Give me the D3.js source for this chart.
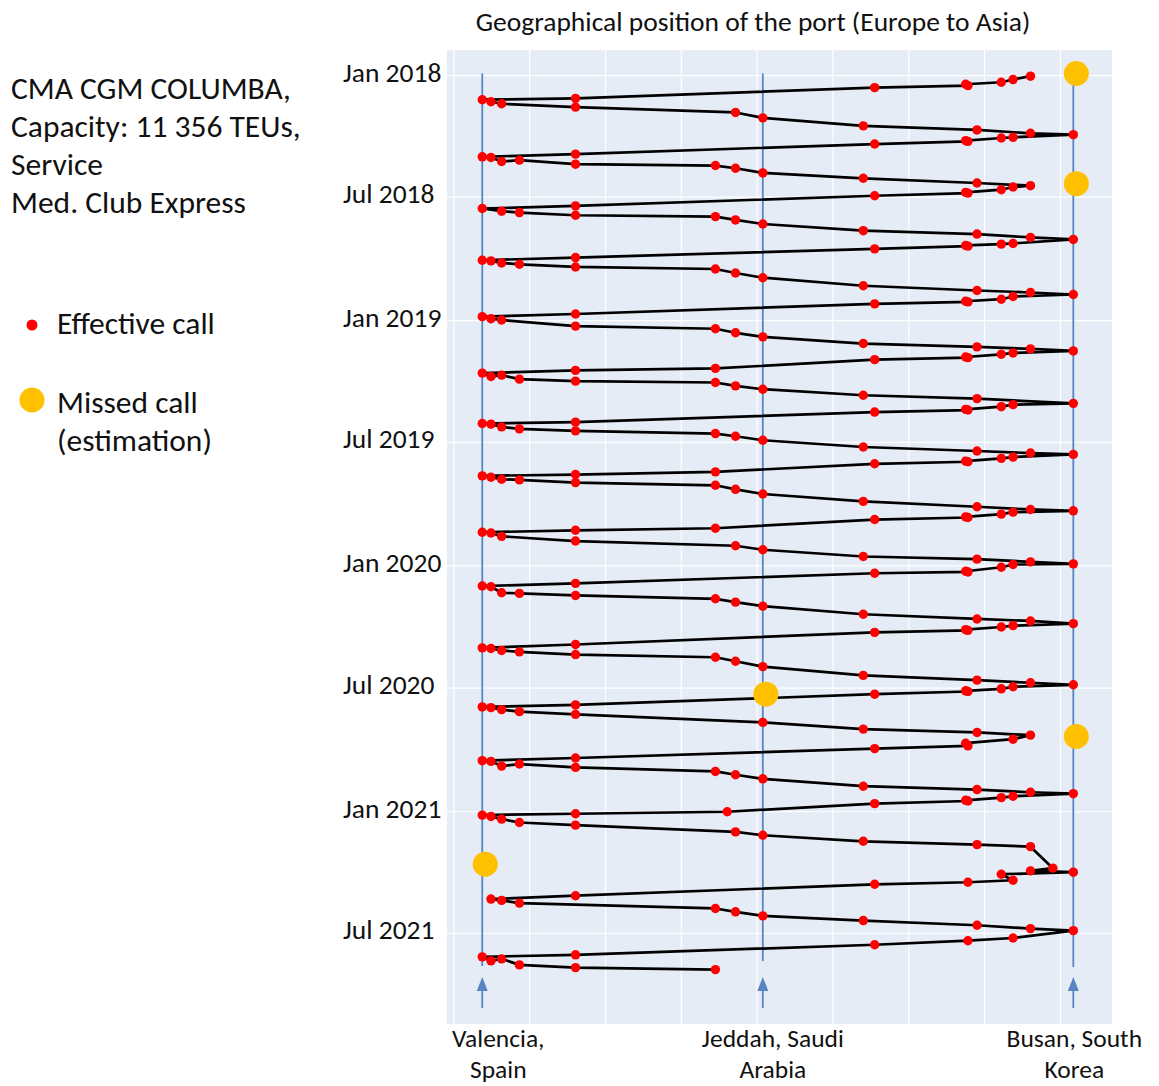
<!DOCTYPE html>
<html>
<head>
<meta charset="utf-8">
<script src="https://cdn.jsdelivr.net/npm/d3@7"></script>
<style>
  body { margin: 0; background: #fff; }
  text { font-family: Carlito, Lato, "Open Sans", sans-serif; fill: #111; }
</style>
</head>
<body>
<div id="chart"></div>
<script>

// ports along the route, x = position index (Europe -> Asia)
var portKeys      = ["VLC", "P02", "P03", "P04", "P05", "P06", "P06b", "P07", "JED", "P08", "P09", "P10a", "P10b", "P11", "P12", "P13", "P14", "P15", "PUS"];
var portPositions = [3.75,  4.9,   6.3,   8.65,  16.05, 34.5,  36.05,  37.15, 40.75, 54.0,  55.5,  67.5,   67.8,   69.0,  72.2,  73.75, 76.05, 79.0,  81.7];

// labelled ports (lines, arrows, axis labels)
var mainPorts  = ["VLC", "JED", "PUS"];
var portLabels = [["Valencia,", "Spain"], ["Jeddah, Saudi", "Arabia"], ["Busan, South", "Korea"]];

// effective calls, in route order: [port, day since 1 Jan 2018]
var calls = [
  ["P14",1],["P13",6],["P12",10],["P10a",13],["P10b",15],["P09",18],["P05",34],["VLC",36],
  ["P02",39],["P03",42],["P05",47],["P07",55],["JED",63],["P08",75],["P11",81],["P14",86],["PUS",88],
  ["P13",92],["P12",93],["P10a",97],["P10b",98],["P09",102],["P05",117],["VLC",121],
  ["P02",122],["P03",128],["P04",126],["P05",132],["P06",134],["P07",138],["JED",145],["P08",153],["P11",160],["P14",164],
  ["P13",166],["P12",170],["P10a",174],["P10b",175],["P09",179],["P05",194],["VLC",198],
  ["P03",202],["P04",204],["P05",208],["P06",210],["P07",215],["JED",221],["P08",231],["P11",236],["P14",241],["PUS",244],
  ["P13",250],["P12",251],["P10a",253],["P10b",254],["P09",258],["P05",271],["VLC",275],
  ["P02",276],["P03",279],["P04",281],["P05",285],["P06",288],["P07",294],["JED",301],["P08",313],["P11",320],["P14",323],["PUS",326],
  ["P13",329],["P12",333],["P10a",336],["P10b",337],["P09",340],["P05",355],["VLC",359],
  ["P02",362],["P03",364],["P05",373],["P06",377],["P07",383],["JED",389],["P08",399],["P11",404],["P14",407],["PUS",410],
  ["P13",413],["P12",415],["P10a",419],["P10b",420],["P09",423],["P06",436],["P05",439],["VLC",443],
  ["P02",448],["P03",446],["P04",452],["P05",455],["P06",457],["P07",462],["JED",467],["P08",476],["P11",481],["PUS",488],
  ["P13",490],["P12",493],["P10a",497],["P10b",498],["P09",501],["P05",516],["VLC",518],
  ["P02",519],["P03",523],["P04",526],["P05",529],["P06",533],["P07",537],["JED",543],["P08",553],["P11",559],["P14",562],["PUS",564],
  ["P13",568],["P12",570],["P10a",574],["P10b",575],["P09",578],["P06",590],["P05",594],["VLC",596],
  ["P02",598],["P03",601],["P04",602],["P05",606],["P06",610],["P07",616],["JED",623],["P08",634],["P11",642],["P14",646],["PUS",648],
  ["P13",650],["P12",653],["P10a",657],["P10b",658],["P09",661],["P06",674],["P05",677],["VLC",680],
  ["P02",681],["P03",686],["P05",693],["P07",700],["JED",706],["P08",716],["P11",720],["P14",724],["PUS",727],
  ["P13",728],["P12",732],["P10a",738],["P10b",739],["P09",741],["P05",756],["VLC",760],
  ["P02",761],["P03",770],["P04",771],["P05",774],["P06",779],["P07",784],["JED",790],["P08",802],["P11",809],["P14",812],["PUS",816],
  ["P13",819],["P12",821],["P10a",825],["P10b",826],["P09",829],["P05",847],["VLC",852],
  ["P02",853],["P03",856],["P04",858],["P05",862],["P06",866],["P07",872],["JED",880],["P08",893],["P11",900],["P14",904],["PUS",907],
  ["P13",910],["P12",913],["P10a",916],["P10b",917],["P09",921],["P05",937],["VLC",940],
  ["P02",941],["P03",944],["P04",947],["P05",951],["JED",963],["P08",973],["P11",978],["P14",982],
  ["P13",988],["P10a",994],["P10b",998],["P09",1002],["P05",1016],["VLC",1020],
  ["P02",1021],["P03",1028],["P04",1025],["P05",1030],["P06",1036],["P07",1041],["JED",1047],["P08",1058],["P11",1063],["P14",1067],["PUS",1069],
  ["P13",1073],["P12",1075],["P10a",1079],["P10b",1080],["P09",1084],["P06b",1096],["P05",1099],["VLC",1101],
  ["P02",1103],["P03",1107],["P04",1112],["P05",1116],["P07",1126],["JED",1131],["P08",1140],["P11",1145],["P14",1148],["P15",1180],["P14",1184],["PUS",1186],
  ["P12",1189],["P13",1198],["P10b",1201],["P09",1204],["P05",1221],
  ["P02",1226],["P03",1228],["P04",1232],["P06",1240],["P07",1245],["JED",1251],["P08",1258],["P11",1265],["P14",1270],["PUS",1273],
  ["P13",1284],["P10b",1288],["P09",1294],["P05",1309],["VLC",1312],
  ["P02",1318],["P03",1315],["P04",1324],["P05",1328],["P06",1331]
];

// missed calls (estimated)
var missedPorts = ["PUS", "PUS", "JED", "PUS", "VLC"];
var missedDays  = [-3, 161, 921, 984, 1174];

// y axis ticks
var tickDates  = ["2018-01-01", "2018-07-01", "2019-01-01", "2019-07-01", "2020-01-01", "2020-07-01", "2021-01-01", "2021-07-01"];
var tickLabels = ["Jan 2018", "Jul 2018", "Jan 2019", "Jul 2019", "Jan 2020", "Jul 2020", "Jan 2021", "Jul 2021"];

var infoLines   = ["CMA CGM COLUMBA,", "Capacity: 11 356 TEUs,", "Service", "Med. Club Express"];
var chartTitle  = "Geographical position of the port (Europe to Asia)";


var W = 1159, H = 1086;
var plot = { left: 447, right: 1112, top: 50, bottom: 1024 };
var blue = '#5785C1';
var start = Date.UTC(2018, 0, 1);
var parseDay = d3.utcParse("%Y-%m-%d");

function dayDate(d){ return d3.utcDay.offset(new Date(start), d); }
function portX(key){ return x(portPositions[portKeys.indexOf(key)]); }

var x = d3.scaleLinear().domain([-0.9, 86.8]).range([plot.left, plot.right]);
var y = d3.scaleUtc().domain([dayDate(-38), dayDate(1412)]).range([plot.top, plot.bottom]);

var svg = d3.select('#chart').append('svg')
  .attr('width', W).attr('height', H);

svg.append('rect').attr('width', W).attr('height', H).attr('fill', '#fff');

// plot background + grid
svg.append('rect')
  .attr('x', plot.left).attr('y', plot.top)
  .attr('width', plot.right - plot.left).attr('height', plot.bottom - plot.top)
  .attr('fill', '#E5ECF6');

svg.append('g').selectAll('line').data(d3.range(0, 90, 10)).enter()
  .append('line')
  .attr('x1', function(d){ return x(d); }).attr('x2', function(d){ return x(d); })
  .attr('y1', plot.top).attr('y2', plot.bottom)
  .attr('stroke', '#fff').attr('stroke-width', 1.2);

svg.append('g').selectAll('line').data(tickDates).enter()
  .append('line')
  .attr('x1', plot.left).attr('x2', plot.right)
  .attr('y1', function(d){ return y(parseDay(d)); }).attr('y2', function(d){ return y(parseDay(d)); })
  .attr('stroke', '#fff').attr('stroke-width', 1.2);

// y tick labels (left aligned, as in the original)
svg.append('g').selectAll('text').data(tickDates).enter()
  .append('text')
  .attr('x', 343)
  .attr('y', function(d){ return y(parseDay(d)) + 6; })
  .attr('font-size', 27.5)
  .text(function(d, i){ return tickLabels[i]; });

// port reference lines and arrows
var lineBottoms = [966, 961, 967];
mainPorts.forEach(function(p, i){
  var px = portX(p);
  svg.append('line')
    .attr('x1', px).attr('x2', px)
    .attr('y1', y(dayDate(-3))).attr('y2', lineBottoms[i])
    .attr('stroke', blue).attr('stroke-width', 1.8);
  svg.append('line')
    .attr('x1', px).attr('x2', px)
    .attr('y1', 1008).attr('y2', 986)
    .attr('stroke', blue).attr('stroke-width', 1.8);
  svg.append('path')
    .attr('d', 'M' + (px - 5.5) + ',991 L' + px + ',977 L' + (px + 5.5) + ',991 Z')
    .attr('fill', blue);
});

// port labels under the plot (one text per line)
var labelShift = [16, 10, 1];
mainPorts.forEach(function(p, i){
  portLabels[i].forEach(function(s, j){
    svg.append('text')
      .attr('text-anchor', 'middle')
      .attr('font-size', 25.5)
      .attr('x', portX(p) + labelShift[i])
      .attr('y', 1047 + j * 31)
      .text(s);
  });
});

// route
var route = d3.line()
  .x(function(d){ return portX(d[0]); })
  .y(function(d){ return y(dayDate(d[1])); });

svg.append('path')
  .datum(calls)
  .attr('d', route)
  .attr('fill', 'none')
  .attr('stroke', '#000')
  .attr('stroke-width', 2.7)
  .attr('stroke-linejoin', 'round');

svg.append('g').selectAll('circle').data(calls).enter()
  .append('circle')
  .attr('cx', function(d){ return portX(d[0]); })
  .attr('cy', function(d){ return y(dayDate(d[1])); })
  .attr('r', 4.7)
  .attr('fill', '#FF0000');

svg.append('g').selectAll('circle').data(missedDays).enter()
  .append('circle')
  .attr('cx', function(d, i){ return portX(missedPorts[i]) + 3; })
  .attr('cy', function(d){ return y(dayDate(d)); })
  .attr('r', 12.5)
  .attr('fill', '#FFC000');

// title
svg.append('text')
  .attr('x', 753).attr('y', 31)
  .attr('text-anchor', 'middle')
  .attr('font-size', 27.5)
  .text(chartTitle);

// ship info
svg.append('g').selectAll('text').data(infoLines).enter()
  .append('text')
  .attr('x', 11)
  .attr('y', function(d, i){ return 99 + i * 38; })
  .attr('font-size', 31.5)
  .text(function(d){ return d; });

// legend
var legend = svg.append('g');
legend.append('circle').attr('cx', 32).attr('cy', 325).attr('r', 5.5).attr('fill', '#FF0000');
legend.append('text').attr('x', 57).attr('y', 334).attr('font-size', 31.5).text('Effective call');
legend.append('circle').attr('cx', 32).attr('cy', 400).attr('r', 12.5).attr('fill', '#FFC000');
legend.append('text').attr('x', 57).attr('y', 413).attr('font-size', 31.5).text('Missed call');
legend.append('text').attr('x', 57).attr('y', 451).attr('font-size', 31.5).text('(estimation)');

</script>
</body>
</html>
